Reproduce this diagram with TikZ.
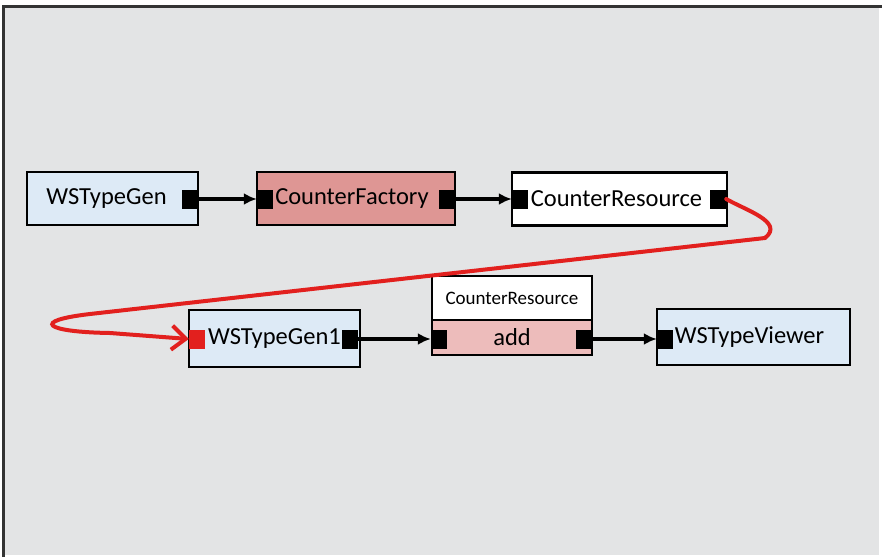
\documentclass[tikz,border=0pt]{standalone}
\usepackage{fontspec}
\setmainfont{Carlito}
\usetikzlibrary{arrows.meta}
\definecolor{panelgray}{HTML}{E3E4E5}
\definecolor{boxblue}{HTML}{DDEAF6}
\definecolor{factoryred}{HTML}{DE9694}
\definecolor{addpink}{HTML}{EDBCBB}
\definecolor{linkred}{HTML}{E2201E}
\tikzset{
  block/.style={draw=black, line width=2.2pt, minimum height=53pt, inner sep=0pt, font=\fontsize{24.5}{28}\selectfont},
  port/.style={fill=black, draw=none, minimum width=16pt, minimum height=19pt, inner sep=0pt},
  flow/.style={-{Latex[length=13pt,width=12pt]}, line width=3.4pt},
}
\begin{document}
\begin{tikzpicture}[x=1pt, y=-1pt]
  \useasboundingbox (0,0) rectangle (882,557);
  \fill[panelgray] (4,7) rectangle (879,555);
  \draw[line width=3pt, black!80] (3,557) -- (3,6) -- (882,6);

  % first row
  \node[block, fill=boxblue, minimum width=171pt] (gen) at (112.5,198.5) {\hspace*{-12pt}WSTypeGen};
  \node[block, fill=factoryred, minimum width=198pt] (factory) at (356,198.5) {\hspace*{-8pt}CounterFactory};
  \node[block, fill=white, minimum width=215pt] (res) at (619.5,199) {\hspace*{-6pt}CounterResource};

  \node[port] (genout) at (189.5,199) {};
  \node[port] (factoryin) at (265,199) {};
  \node[port] (factoryout) at (447,199) {};
  \node[port] (resin) at (520,199) {};
  \node[port] (resout) at (718,199) {};

  % second row
  \node[block, fill=boxblue, minimum width=171pt, minimum height=57pt] (gen1) at (274.5,338.5) {WSTypeGen1};
  \node[block, fill=white, minimum width=160pt, minimum height=44pt, font=\fontsize{19}{22}\selectfont] (addhead) at (512,298) {CounterResource};
  \node[block, fill=addpink, minimum width=160pt, minimum height=35pt] (add) at (512,337.5) {add};
  \node[block, fill=boxblue, minimum width=193pt, minimum height=56pt] (viewer) at (753.5,337) {\hspace*{-8pt}WSTypeViewer};

  \node[port, fill=linkred] (gen1in) at (197,339) {};
  \node[port] (gen1out) at (350,339) {};
  \node[port] (addin) at (439,339) {};
  \node[port] (addout) at (584,339) {};
  \node[port] (viewerin) at (665,339) {};

  \draw[flow] (genout) -- (factoryin);
  \draw[flow] (factoryout) -- (resin);
  \draw[flow] (gen1out) -- (addin);
  \draw[flow] (addout) -- (viewerin);

  % hand drawn link back to the second row
  \draw[linkred, line width=4pt, line cap=round, -{Straight Barb[length=14pt,width=24pt,line width=4pt]}]
    (resout.east) .. controls (745,210) and (785,222) .. (765,238)
    -- (90,314) .. controls (30,321) and (45,332) .. (110,333)
    -- (gen1in.west);
\end{tikzpicture}
\end{document}
